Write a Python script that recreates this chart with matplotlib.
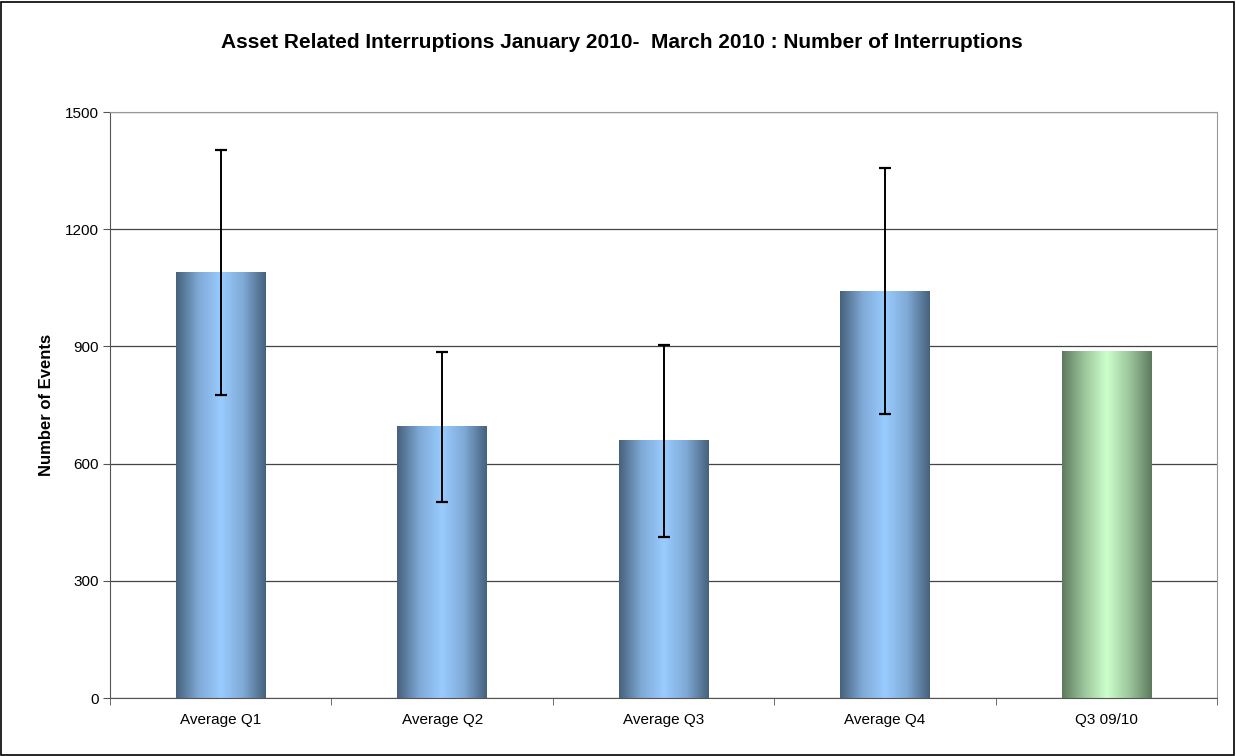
import numpy as np
import matplotlib.pyplot as plt
from matplotlib.colors import LinearSegmentedColormap
from matplotlib.patches import Rectangle

plt.rcParams['font.family'] = ['Liberation Sans', 'DejaVu Sans']

categories = ['Average Q1', 'Average Q2', 'Average Q3', 'Average Q4', 'Q3 09/10']
values = [1090, 696, 660, 1042, 888]
err_upper = [1403, 886, 903, 1357, None]
err_lower = [776, 502, 412, 727, None]

title = 'Asset Related Interruptions January 2010-  March 2010 : Number of Interruptions'

blue_cmap = LinearSegmentedColormap.from_list('blue_tube', ['#46617c', '#7fa9d6', '#99ccff', '#7fa9d6', '#46617c'])
green_cmap = LinearSegmentedColormap.from_list('green_tube', ['#5e7a5e', '#9cc69c', '#ccffcc', '#9cc69c', '#5e7a5e'])

fig = plt.figure(figsize=(12.36, 7.56), dpi=100)
ax = fig.add_axes([0.089, 0.0767, 0.8957, 0.7751])

x = np.arange(len(categories))
width = 0.405
bars = ax.bar(x, values, width=width, color='none', edgecolor='none', zorder=2)

# horizontal gradient fill, clipped to each bar
grad = np.linspace(0, 1, 256).reshape(1, -1)
for i, b in enumerate(bars):
    cmap = green_cmap if i == len(bars) - 1 else blue_cmap
    x0, y0 = b.get_x(), b.get_y()
    w, h = b.get_width(), b.get_height()
    im = ax.imshow(grad, cmap=cmap, aspect='auto', extent=[x0, x0 + w, y0, y0 + h],
                   interpolation='bicubic', zorder=2)
    im.set_clip_path(b)

# error bars from the low/high values
for i in range(len(categories)):
    if err_upper[i] is None:
        continue
    lo = values[i] - err_lower[i]
    hi = err_upper[i] - values[i]
    ax.errorbar(x[i], values[i], yerr=[[lo], [hi]], fmt='none', ecolor='black',
                elinewidth=1.4, capsize=4.5, capthick=1.6, zorder=3)

ax.set_xlim(-0.5, len(categories) - 0.5)
ax.set_ylim(0, 1500)
ax.set_yticks(np.arange(0, 1501, 300))
ax.yaxis.grid(True, color='#444444', linewidth=0.9, zorder=0)
ax.set_axisbelow(True)

ax.set_xticks(x)
ax.set_xticklabels(categories, fontsize=11)
ax.tick_params(axis='x', length=0, pad=11)
ax.set_xticks(np.arange(-0.5, len(categories)), minor=True)
ax.tick_params(axis='x', which='minor', length=5, color='#555555')
ax.tick_params(axis='y', labelsize=11, length=5, color='#555555', pad=3)

for side in ['top', 'right']:
    ax.spines[side].set_color('#999999')
for side in ['left', 'bottom']:
    ax.spines[side].set_color('#555555')

ax.set_ylabel('Number of Events', fontsize=12, fontweight='bold', labelpad=8)
fig.text(0.503, 0.944, title, ha='center', va='center', fontsize=15, fontweight='bold')

# outer chart border
fig.patches.append(Rectangle((0.001, 0.001), 0.997, 0.997, transform=fig.transFigure,
                             fill=False, edgecolor='black', linewidth=1.2))

fig.savefig('out.png', dpi=100)
